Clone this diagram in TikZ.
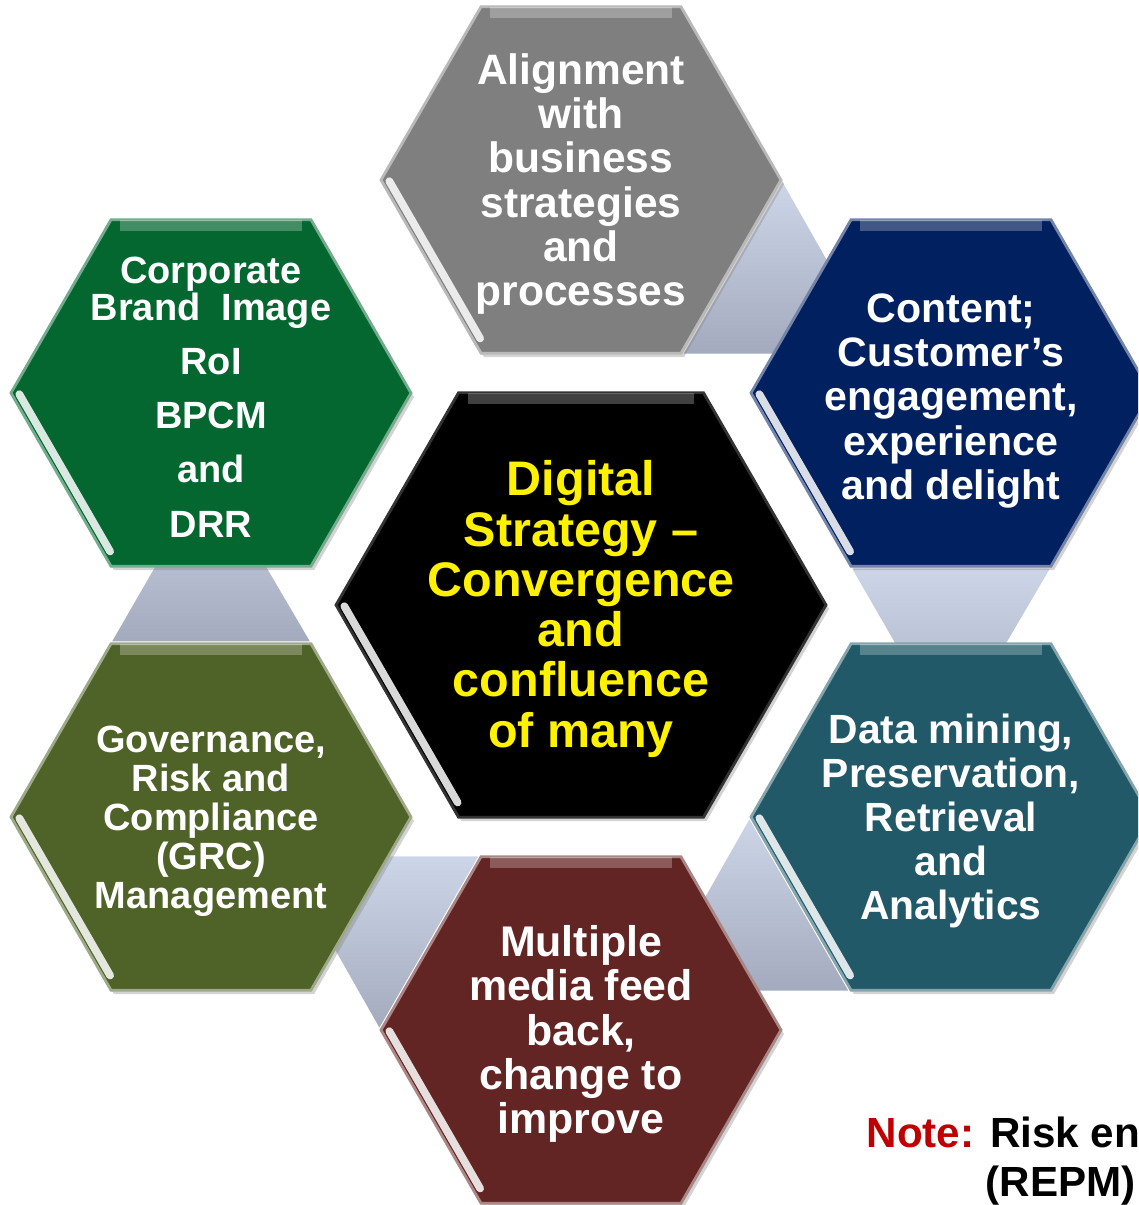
\documentclass[tikz,border=0pt]{standalone}
\usepackage{fontspec}
\setmainfont{Liberation Sans}
\usetikzlibrary{shapes.geometric, shadows, backgrounds}
\definecolor{hexgray}{HTML}{7F7F7F}
\definecolor{hexgreen}{HTML}{03672F}
\definecolor{hexnavy}{HTML}{002060}
\definecolor{hexolive}{HTML}{4F6228}
\definecolor{hexteal}{HTML}{215968}
\definecolor{hexmaroon}{HTML}{632523}
\definecolor{linktop}{HTML}{CDD6E8}
\definecolor{linkbottom}{HTML}{A3AABD}
\definecolor{notered}{HTML}{C00000}

\begin{document}
\begin{tikzpicture}[
        hexagon/.style={regular polygon, regular polygon sides=6, minimum size=4cm, inner sep=0pt, fill=#1, draw=#1!55!white, line width=0.8pt, drop shadow={opacity=0.35, shadow xshift=0.03cm, shadow yshift=-0.04cm}},
        hextext/.style={text=white, font=\bfseries\fontsize{12.1}{12.6}\selectfont, align=center, inner sep=0pt, yshift=-0.04cm},
        link/.style={top color=linktop, bottom color=linkbottom, draw=white, line width=0.6pt},
        gloss/.style={white, opacity=0.85, line width=2.2pt, line cap=round, shorten <=0.06cm, shorten >=0.14cm},
        bevel/.style={white, opacity=0.25, line width=3pt, shorten <=0.1cm, shorten >=0.1cm}
    ]
    \useasboundingbox (0,0) rectangle (11.38,12.05);
    \clip (0,0) rectangle (11.38,12.05);

    % Centre
    \node[hexagon=black, minimum size=4.9cm, draw=black!80!white] (digital) at (5.81,6.00) {};

    % Ring
    \node[hexagon=hexgray] (align) at (5.81,10.25) {};
    \node[hexagon=hexnavy] (content) at (9.51,8.12) {};
    \node[hexagon=hexteal] (data) at (9.51,3.88) {};
    \node[hexagon=hexmaroon] (media) at (5.81,1.75) {};
    \node[hexagon=hexolive] (grc) at (2.11,3.88) {};
    \node[hexagon=hexgreen] (brand) at (2.11,8.12) {};

    % Links between neighbours
    \begin{scope}[on background layer]
        \draw[link] (align.corner 6) -- (align.corner 5) -- ([xshift=2cm]align.corner 5) -- cycle;
        \draw[link] (content.corner 4) -- (content.corner 5) -- ([shift={(300:2cm)}]content.corner 4) -- cycle;
        \draw[link] (data.corner 3) -- (data.corner 4) -- ([xshift=-2cm]data.corner 4) -- cycle;
        \draw[link] (media.corner 2) -- (media.corner 3) -- ([xshift=-2cm]media.corner 2) -- cycle;
        \draw[link] (grc.corner 1) -- (grc.corner 2) -- ([shift={(60:2cm)}]grc.corner 2) -- cycle;
    \end{scope}

    % Bevel highlights
    \foreach \h in {digital, align, content, data, media, grc, brand} {
        \draw[bevel] ([yshift=-0.07cm]\h.corner 2) -- ([yshift=-0.07cm]\h.corner 1);
        \draw[gloss] ([shift={(30:0.08)}]\h.corner 3) -- ([shift={(30:0.08)}]\h.corner 4);
    }

    % Texts
    \node[hextext, text=yellow, font=\bfseries\fontsize{13.8}{14.3}\selectfont] (digitaltxt) at (digital) {Digital\\Strategy --\\Convergence\\and\\confluence\\of many};
    \node[hextext] (aligntxt) at (align) {Alignment\\with\\business\\strategies\\and\\processes};
    \node[hextext, font=\bfseries\fontsize{11.7}{12.6}\selectfont, yshift=-0.04cm] (contenttxt) at (content) {Content;\\Customer’s\\engagement,\\experience\\and delight};
    \node[hextext, font=\bfseries\fontsize{11.6}{12.5}\selectfont] (datatxt) at (data) {Data mining,\\Preservation,\\Retrieval\\and\\Analytics};
    \node[hextext, font=\bfseries\fontsize{12.2}{12.6}\selectfont] (mediatxt) at (media) {Multiple\\media feed\\back,\\change to\\improve};
    \node[hextext, font=\bfseries\fontsize{10.8}{11.1}\selectfont] (grctxt) at (grc) {Governance,\\Risk and\\Compliance\\(GRC)\\Management};
    \node[hextext, font=\bfseries\fontsize{10.8}{10.6}\selectfont] (brandtxt) at (brand) {Corporate\\Brand\ \ Image\\[4.8pt]RoI\\[4.8pt]BPCM\\[4.8pt]and\\[4.8pt]DRR};

    % Note
    \node[anchor=base west, inner sep=0pt, font=\bfseries\fontsize{12}{14}\selectfont] (note) at (8.66,0.57) {\textcolor{notered}{Note:} Risk en};
    \node[anchor=base west, inner sep=0pt, font=\bfseries\fontsize{12}{14}\selectfont] (repm) at (9.85,0.08) {(REPM)};
\end{tikzpicture}
\end{document}
